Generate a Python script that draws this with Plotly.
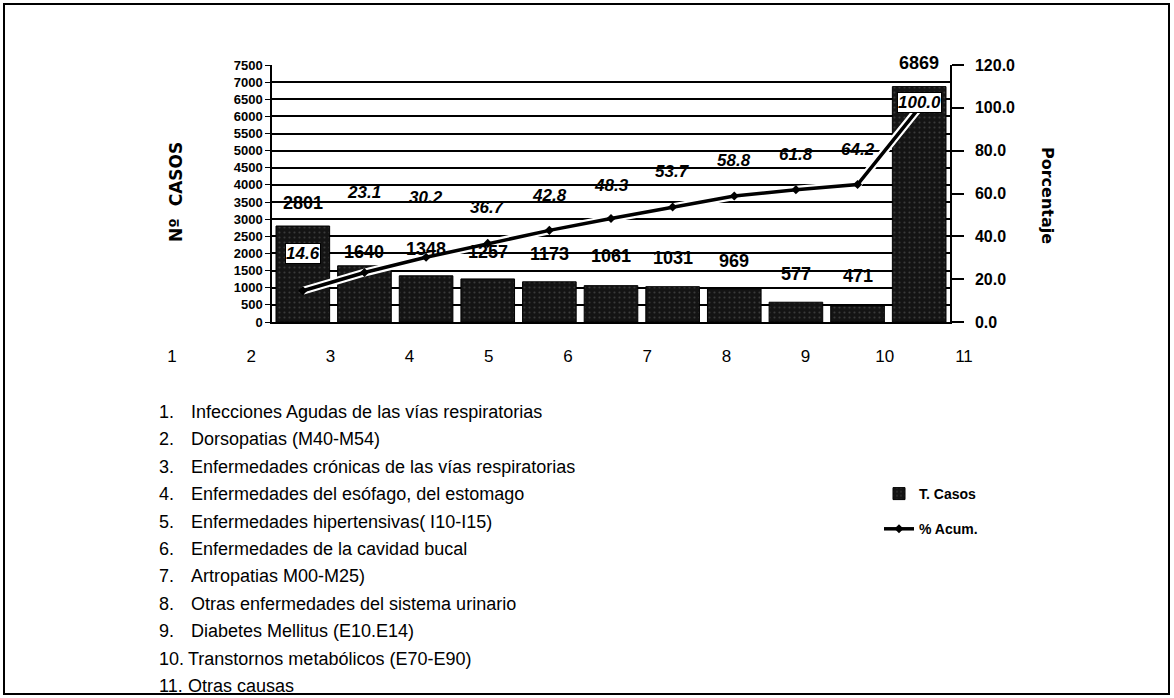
import plotly.graph_objects as go

# ---------------- data ----------------
categorias = [1, 2, 3, 4, 5, 6, 7, 8, 9, 10, 11]
t_casos = [2801, 1640, 1348, 1257, 1173, 1061, 1031, 969, 577, 471, 6869]
pct_acum = [14.6, 23.1, 30.2, 36.7, 42.8, 48.3, 53.7, 58.8, 61.8, 64.2, 100.0]
eje_etiquetas = ["1", "2", "3", "4", "5", "6", "7", "8", "9", "10", "11"]
causas = [
    "Infecciones Agudas de las vías respiratorias",
    "Dorsopatias (M40-M54)",
    "Enfermedades crónicas de las vías respiratorias",
    "Enfermedades del esófago, del estomago",
    "Enfermedades hipertensivas( I10-I15)",
    "Enfermedades de la cavidad bucal",
    "Artropatias M00-M25)",
    "Otras enfermedades del sistema urinario",
    "Diabetes Mellitus (E10.E14)",
    "Transtornos metabólicos (E70-E90)",
    "Otras causas",
]

# ---------------- styling / layout helpers ----------------
W, H = 1174, 698
SANS = "Liberation Sans, Arial, sans-serif"
WIDE = "DejaVu Sans, Verdana, sans-serif"

def px_x(p):
    return p / W

def px_y(p):
    return 1 - p / H

plot_left, plot_right, plot_top, plot_bottom = 272, 950, 65, 322

bar_label_shift = [23, 14, 27, 27, 28, 30, 29, 28, 28, 30, 24]
pct_label_shift = [37, 80, 60, 36, 35, 33, 35, 36, 35, 35, 5]

fig = go.Figure()

fig.add_trace(go.Bar(
    x=categorias, y=t_casos, name="T. Casos",
    marker=dict(
        color="#141414", line=dict(color="black", width=1),
        pattern=dict(shape=".", fgcolor="#3a3a3a", bgcolor="#141414",
                     size=5, solidity=0.15),
    ),
    legendgroup="a", hoverinfo="y",
))

# white halo under the line
fig.add_trace(go.Scatter(
    x=categorias, y=pct_acum, yaxis="y2", mode="lines",
    line=dict(color="white", width=8), showlegend=False, hoverinfo="skip",
))
fig.add_trace(go.Scatter(
    x=categorias, y=pct_acum, yaxis="y2", name="% Acum.",
    mode="lines+markers",
    line=dict(color="black", width=3.5),
    marker=dict(symbol="diamond", size=7, color="black"),
    legendgroup="b",
))

# invisible trace carrying the lower numbered axis (own small subplot)
fig.add_trace(go.Scatter(
    x=categorias, y=[0.5] * len(categorias), xaxis="x2", yaxis="y3",
    mode="markers", marker=dict(opacity=0), showlegend=False, hoverinfo="skip",
))

annotations = []
for xv, v, s in zip(categorias, t_casos, bar_label_shift):
    annotations.append(dict(
        x=xv, y=v, xref="x", yref="y", text=f"<b>{v}</b>", showarrow=False,
        yshift=s, yanchor="middle",
        font=dict(family=SANS, size=18, color="black"),
    ))
for i, (xv, v, s) in enumerate(zip(categorias, pct_acum, pct_label_shift)):
    boxed = i in (0, len(pct_acum) - 1)
    annotations.append(dict(
        x=xv, y=v, xref="x", yref="y2", text=f"<b><i>{v:.1f}</i></b>",
        showarrow=False, yshift=s, yanchor="middle",
        font=dict(family=SANS, size=17, color="black"),
        bgcolor="white" if boxed else None,
        bordercolor="black" if boxed else None,
        borderwidth=1 if boxed else 0, borderpad=0,
    ))

# axis titles
annotations.append(dict(
    x=px_x(176), y=px_y(192), xref="paper", yref="paper",
    xanchor="center", yanchor="middle",
    text="<b>Nº  CASOS</b>", textangle=-90, showarrow=False,
    font=dict(family=WIDE, size=17, color="black"),
))
annotations.append(dict(
    x=px_x(1048), y=px_y(195), xref="paper", yref="paper",
    xanchor="center", yanchor="middle",
    text="<b>Porcentaje</b>", textangle=90, showarrow=False,
    font=dict(family=WIDE, size=16, color="black"),
))

# list of causes
for i, c in enumerate(causas):
    yy = 412 + i * 27.4
    annotations.append(dict(
        x=px_x(157), y=px_y(yy), xref="paper", yref="paper",
        xanchor="left", yanchor="middle",
        text=f"{eje_etiquetas[i]}.", showarrow=False,
        font=dict(family=SANS, size=18, color="black"),
    ))
    annotations.append(dict(
        x=px_x(189 if i < 9 else 186), y=px_y(yy), xref="paper", yref="paper",
        xanchor="left", yanchor="middle", text=c, showarrow=False,
        font=dict(family=SANS, size=18, color="black"),
    ))

fig.update_layout(
    template="none",
    width=W, height=H,
    margin=dict(l=0, r=0, t=0, b=0, autoexpand=False),
    paper_bgcolor="white", plot_bgcolor="rgba(0,0,0,0)",
    bargap=0.13,
    showlegend=True,
    legend=dict(
        x=px_x(879), y=px_y(478), xanchor="left", yanchor="top",
        font=dict(family=SANS, size=14, color="black", weight="bold"),
        tracegroupgap=14, bgcolor="rgba(0,0,0,0)",
    ),
    xaxis=dict(
        domain=[px_x(plot_left), px_x(plot_right)],
        range=[0.5, 11.5], showticklabels=False, ticks="",
        showgrid=False, zeroline=False,
        showline=True, linecolor="black", linewidth=1.5,
        anchor="y", automargin=False,
    ),
    xaxis2=dict(
        domain=[px_x(172), px_x(964)], range=[1, 11],
        tickvals=categorias, ticktext=eje_etiquetas,
        anchor="y3", side="bottom",
        showline=False, showgrid=False, zeroline=False, ticks="",
        tickfont=dict(family=SANS, size=17, color="black"),
        automargin=False,
    ),
    yaxis3=dict(
        domain=[px_y(344), px_y(336)], range=[0, 1], anchor="x2",
        visible=False, automargin=False,
    ),
    yaxis=dict(
        domain=[px_y(plot_bottom), px_y(plot_top)],
        range=[0, 7500], dtick=500, tick0=0,
        showgrid=True, gridcolor="black", gridwidth=1.5,
        showline=True, linecolor="black", linewidth=1.5,
        ticks="outside", ticklen=5, tickcolor="black",
        zeroline=False, automargin=False, anchor="x",
        tickfont=dict(family=SANS, size=13, color="black", weight="bold"),
    ),
    yaxis2=dict(
        overlaying="y", side="right", anchor="x",
        range=[0, 120], dtick=20, tick0=0, tickformat=".1f",
        showgrid=False, zeroline=False,
        showline=True, linecolor="black", linewidth=1.5,
        ticks="outside", ticklen=12, tickcolor="black", tickwidth=1.5,
        ticklabelstandoff=8,
        automargin=False,
        tickfont=dict(family=SANS, size=16, color="black", weight="bold"),
    ),
    annotations=annotations,
    shapes=[dict(
        type="rect", xref="paper", yref="paper",
        x0=px_x(4), x1=px_x(1169), y0=px_y(694), y1=px_y(4),
        line=dict(color="black", width=2), fillcolor="rgba(0,0,0,0)",
    )],
)

fig.write_html(
    "out.html",
    config={"displayModeBar": False},
    post_script="document.body.style.margin='0';",
)
